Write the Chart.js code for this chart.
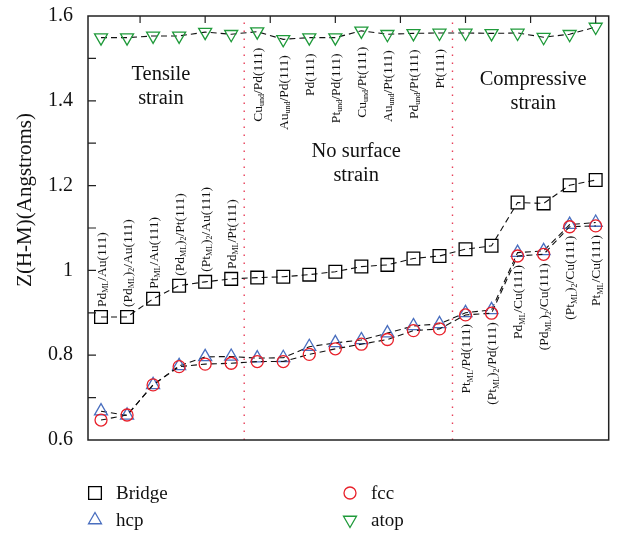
<!DOCTYPE html>
<html>
<head>
<meta charset="utf-8">
<script src="https://cdn.jsdelivr.net/npm/chart.js@4/dist/chart.umd.min.js"></script>
<style>
html, body { margin: 0; padding: 0; background: #fff; }
#wrap { width: 619px; height: 533px; }
</style>
</head>
<body>
<div id="wrap"><canvas id="zchart"></canvas></div>
<script>
// surface systems, _{...} marks a subscript
const systems = [
    "Pd_{ML}/Au(111)", "(Pd_{ML})_{2}/Au(111)", "Pt_{ML}/Au(111)", "(Pd_{ML})_{2}/Pt(111)",
    "(Pt_{ML})_{2}/Au(111)", "Pd_{ML}/Pt(111)", "Cu_{und}/Pd(111)", "Au_{und}/Pd(111)",
    "Pd(111)", "Pt_{und}/Pd(111)", "Cu_{und}/Pt(111)", "Au_{und}/Pt(111)", "Pd_{und}/Pt(111)",
    "Pt(111)", "Pt_{ML}/Pd(111)", "(Pt_{ML})_{2}/Pd(111)", "Pd_{ML}/Cu(111)",
    "(Pd_{ML})_{2}/Cu(111)", "(Pt_{ML})_{2}/Cu(111)", "Pt_{ML}/Cu(111)"
];

const bridge = [0.890, 0.890, 0.933, 0.964, 0.973, 0.980, 0.983, 0.985, 0.990, 0.997,
    1.009, 1.013, 1.028, 1.034, 1.050, 1.058, 1.160, 1.158, 1.201, 1.213];
const fcc = [0.647, 0.659, 0.730, 0.773, 0.779, 0.781, 0.785, 0.785, 0.802, 0.815,
    0.826, 0.837, 0.858, 0.862, 0.895, 0.899, 1.034, 1.038, 1.103, 1.105];
const hcp = [0.668, 0.658, 0.730, 0.775, 0.796, 0.797, 0.793, 0.794, 0.820, 0.829,
    0.836, 0.852, 0.869, 0.874, 0.900, 0.907, 1.042, 1.046, 1.108, 1.113];
const atop = [1.549, 1.549, 1.553, 1.553, 1.562, 1.557, 1.563, 1.545, 1.549, 1.549,
    1.565, 1.557, 1.559, 1.560, 1.560, 1.559, 1.560, 1.550, 1.557, 1.574];

const dividers = [6.5, 14.5];
const regionNames = [["Tensile", "strain"], ["No surface", "strain"], ["Compressive", "strain"]];
const yMin = 0.6, yMax = 1.6;

const SERIF = '"Liberation Serif", "DejaVu Serif", serif';

function pts(arr) {
    return arr.map((v, i) => ({ x: i + 1, y: v }));
}

function series(label, arr, color, style, radius, rotation) {
    return {
        label: label,
        data: pts(arr),
        borderColor: '#111',
        borderWidth: 1.1,
        borderDash: [6, 4],
        pointStyle: style,
        pointRadius: radius,
        pointRotation: rotation || 0,
        pointBorderColor: color,
        pointBackgroundColor: 'rgba(0,0,0,0)',
        pointBorderWidth: 1.3,
        fill: false,
        tension: 0
    };
}

let datasets = [
    series('Bridge', bridge, '#000', 'rect', 9),
    series('fcc', fcc, '#e8202a', 'circle', 6),
    series('hcp', hcp, '#4a6fbf', 'triangle', 7.5),
    series('atop', atop, '#1f9a3a', 'triangle', 7.5, 180)
];
dividers.forEach(d => {
    datasets.push({
        label: 'div',
        data: [{ x: d, y: yMin }, { x: d, y: yMax }],
        borderColor: '#e8405a',
        borderWidth: 1.4,
        borderDash: [1.4, 6.6],
        pointRadius: 0,
        fill: false
    });
});

// split "Pd_{ML}/Au(111)" into normal and subscript parts
function parts(str) {
    let out = [];
    let re = /_\{([^}]*)\}/g, last = 0, m;
    while ((m = re.exec(str)) !== null) {
        if (m.index > last) out.push({ t: str.slice(last, m.index), sub: false });
        out.push({ t: m[1], sub: true });
        last = re.lastIndex;
    }
    if (last < str.length) out.push({ t: str.slice(last), sub: false });
    return out;
}

function richWidth(ctx, segs) {
    let w = 0;
    segs.forEach(s => {
        ctx.font = (s.sub ? '8px ' : '13.5px ') + SERIF;
        w += ctx.measureText(s.t).width;
    });
    return w;
}

// vertical label, reading bottom to top; mode 'bottom' starts at y, 'top' ends at y
function drawVertical(ctx, str, x, y, mode) {
    let segs = parts(str);
    ctx.save();
    ctx.translate(x, y);
    ctx.rotate(-Math.PI / 2);
    let w = richWidth(ctx, segs);
    let lx = mode === 'bottom' ? 0 : -w;
    ctx.fillStyle = '#111';
    ctx.textBaseline = 'alphabetic';
    ctx.textAlign = 'left';
    segs.forEach(s => {
        ctx.font = (s.sub ? '8px ' : '13.5px ') + SERIF;
        ctx.fillText(s.t, lx, s.sub ? 7 : 4.5);
        lx += ctx.measureText(s.t).width;
    });
    ctx.restore();
}

const decor = {
    id: 'decor',
    afterDraw(chart) {
        const ctx = chart.ctx;
        const xs = chart.scales.x, ys = chart.scales.y;
        const a = chart.chartArea;
        ctx.save();

        // frame
        ctx.strokeStyle = '#222';
        ctx.lineWidth = 1.5;
        ctx.strokeRect(a.left, a.top, a.right - a.left, a.bottom - a.top);

        // inward ticks, top and left
        ctx.lineWidth = 1.2;
        ctx.beginPath();
        for (let v = 2.5; v < xs.max; v += 2.5) {
            let px = xs.getPixelForValue(v);
            ctx.moveTo(px, a.top);
            ctx.lineTo(px, a.top + 7);
        }
        for (let v = yMin + 0.1; v < yMax - 0.05; v += 0.1) {
            let py = ys.getPixelForValue(v);
            ctx.moveTo(a.left, py);
            ctx.lineTo(a.left + 8, py);
        }
        ctx.stroke();

        // y title
        ctx.save();
        ctx.translate(25, 200);
        ctx.rotate(-Math.PI / 2);
        ctx.font = '21px ' + SERIF;
        ctx.fillStyle = '#111';
        ctx.textAlign = 'center';
        ctx.textBaseline = 'middle';
        ctx.fillText('Z(H-M)(Angstroms)', 0, 0);
        ctx.restore();

        // system labels
        systems.forEach((s, i) => {
            let xv = i + 1;
            let px = xs.getPixelForValue(xv);
            if (xv < dividers[0]) {
                drawVertical(ctx, s, px, ys.getPixelForValue(bridge[i]) - 10, 'bottom');
            } else if (xv < dividers[1]) {
                drawVertical(ctx, s, px, ys.getPixelForValue(atop[i]) + 16, 'top');
            } else {
                drawVertical(ctx, s, px, ys.getPixelForValue(fcc[i]) + 9, 'top');
            }
        });

        // region names
        const spots = [[3.3, 75], [10.8, 152], [17.6, 80]];
        ctx.font = '20.5px ' + SERIF;
        ctx.fillStyle = '#111';
        ctx.textAlign = 'center';
        ctx.textBaseline = 'middle';
        regionNames.forEach((lines, k) => {
            let px = xs.getPixelForValue(spots[k][0]);
            lines.forEach((ln, j) => ctx.fillText(ln, px, spots[k][1] + j * 24));
        });

        // legend in two columns
        const spotsL = [[95, 493], [350, 493], [95, 520], [350, 520]];
        const order = [0, 1, 2, 3];
        ctx.font = '19px ' + SERIF;
        ctx.textAlign = 'left';
        order.forEach((di, k) => {
            let ds = chart.data.datasets[di];
            let [lx, ly] = spotsL[k];
            ctx.strokeStyle = ds.pointBorderColor;
            ctx.fillStyle = 'rgba(0,0,0,0)';
            ctx.lineWidth = 1.3;
            ctx.setLineDash([]);
            Chart.helpers.drawPoint(ctx, {
                pointStyle: ds.pointStyle,
                radius: ds.pointRadius,
                rotation: ds.pointRotation,
                borderWidth: 1.3
            }, lx, ly);
            ctx.fillStyle = '#111';
            ctx.fillText(ds.label, lx + 21, ly + 1);
        });

        ctx.restore();
    }
};

new Chart(document.getElementById('zchart'), {
    type: 'line',
    data: { datasets: datasets },
    options: {
        responsive: true,
        maintainAspectRatio: false,
        animation: false,
        layout: { padding: { top: 16, right: 9, bottom: 93, left: 0 } },
        plugins: { legend: { display: false }, tooltip: { enabled: false } },
        scales: {
            x: {
                type: 'linear',
                min: 0.5,
                max: 20.5,
                display: false
            },
            y: {
                min: yMin,
                max: yMax,
                grid: { display: false, drawTicks: false },
                border: { display: false },
                afterFit(scale) {
                    scale.width = 88;
                    scale.paddingTop = 0;
                    scale.paddingBottom = 0;
                },
                ticks: {
                    stepSize: 0.2,
                    padding: 15,
                    color: '#111',
                    font: { family: SERIF, size: 20 },
                    callback: v => String(+v.toFixed(1))
                }
            }
        }
    },
    plugins: [decor]
});
</script>
</body>
</html>
